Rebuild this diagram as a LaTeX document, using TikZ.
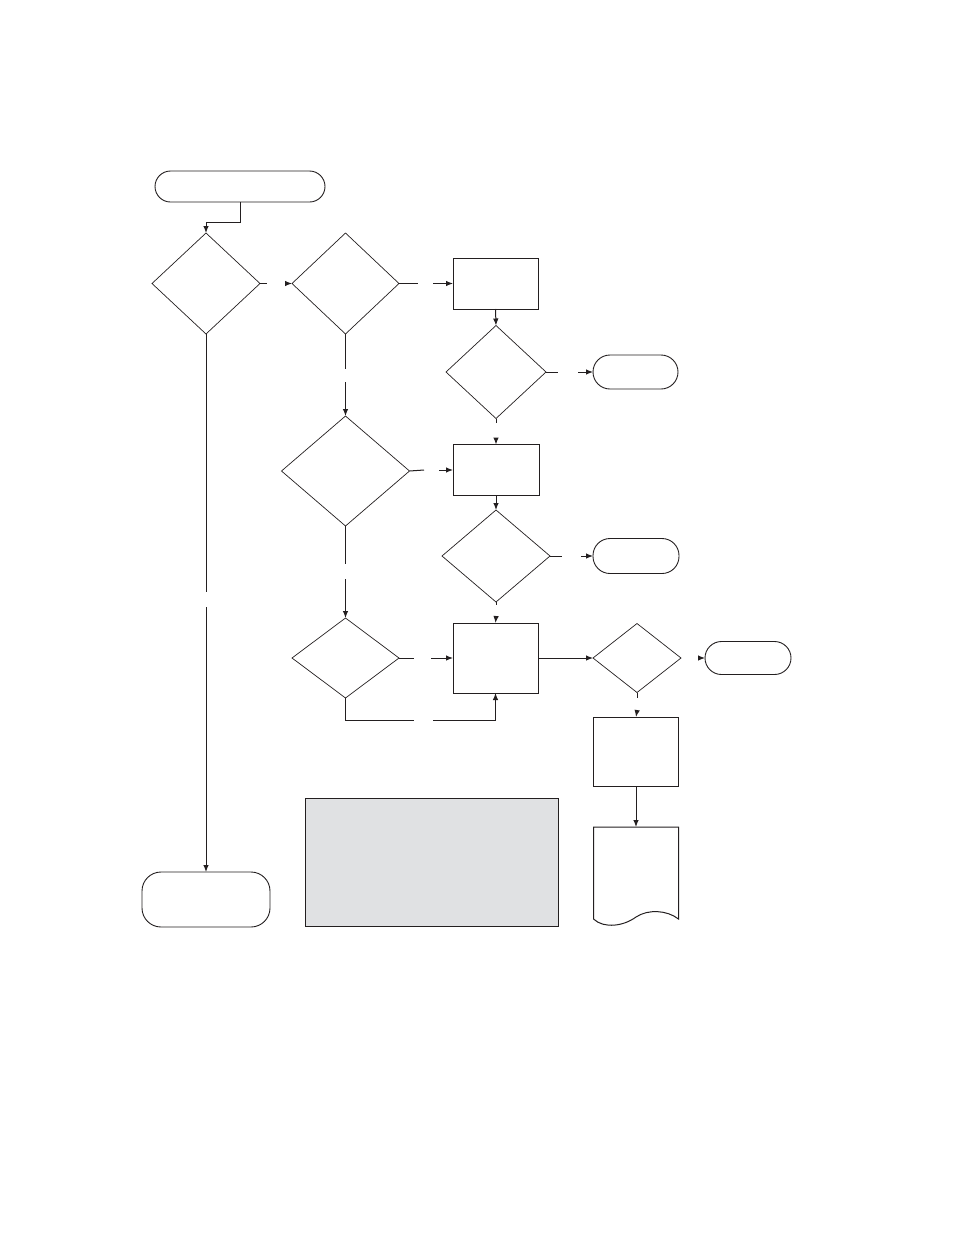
\documentclass[tikz,border=0pt]{standalone}
\usetikzlibrary{shapes.geometric,arrows.meta}
\definecolor{ink}{HTML}{231F20}
\definecolor{panel}{HTML}{E0E1E3}
\tikzset{
  every node/.style={inner sep=0pt, outer sep=0pt},
  dia/.style={diamond, draw=ink, line width=0.7pt},
  boxn/.style={rectangle, draw=ink, line width=1pt},
  term/.style={rectangle, draw=ink, line width=0.9pt},
  ln/.style={draw=ink, line width=1pt},
  arr/.style={ln, -{Latex[length=7pt,width=5.5pt]}},
}
\begin{document}
\begin{tikzpicture}[x=1pt,y=-1pt]
\useasboundingbox (0,0) rectangle (954,1235);

% nodes
\node[term, rounded corners=15.5pt, minimum width=170pt, minimum height=31pt] (S) at (240,186.5) {};
\node[dia, minimum width=108pt, minimum height=101pt] (D1) at (206,283.5) {};
\node[dia, minimum width=107pt, minimum height=101pt] (D2) at (345.5,283.5) {};
\node[boxn, minimum width=85pt, minimum height=51pt] (B1) at (495.5,283.5) {};
\node[dia, minimum width=100pt, minimum height=93pt] (D3) at (496,372) {};
\node[term, rounded corners=17pt, minimum width=85pt, minimum height=34pt] (T1) at (635.5,372) {};
\node[dia, minimum width=128pt, minimum height=110pt] (D4) at (345.5,471) {};
\node[boxn, minimum width=86pt, minimum height=51pt] (B2) at (496,470) {};
\node[dia, minimum width=108pt, minimum height=92pt] (D5) at (496,556) {};
\node[term, rounded corners=17pt, minimum width=86pt, minimum height=35pt] (T2) at (636,556) {};
\node[dia, minimum width=107pt, minimum height=80pt] (D6) at (345.5,658) {};
\node[boxn, minimum width=85pt, minimum height=70pt] (B3) at (495.5,658) {};
\node[dia, minimum width=88pt, minimum height=69pt] (D7) at (637,658) {};
\node[term, rounded corners=16.5pt, minimum width=86pt, minimum height=33pt] (T3) at (748,658) {};
\node[boxn, minimum width=85pt, minimum height=69pt] (B4) at (636,751.5) {};
\node[minimum width=85pt, minimum height=92pt] (DOC) at (636,873) {};
\node[boxn, fill=panel, minimum width=253pt, minimum height=128pt] (G) at (431.5,862) {};
\node[term, rounded corners=19pt, minimum width=128pt, minimum height=55pt] (T4) at (206,899.5) {};

% document outline
\draw[ink, line width=1pt] (DOC.south west) -- (DOC.north west) -- (DOC.north east) -- (DOC.south east)
  .. controls (667,910) and (648,909) .. (636,917)
  .. controls (624,926) and (604,929) .. (DOC.south west);

% gap coordinates
\coordinate (g1a) at (267,283.5);   \coordinate (g1b) at (287,283.5);
\coordinate (g2a) at (418,283.5);   \coordinate (g2b) at (433,283.5);
\coordinate (g3a) at (558,372);     \coordinate (g3b) at (578,372);
\coordinate (g4a) at (496,423);     \coordinate (g4b) at (496,438);
\coordinate (g5a) at (345.5,369);   \coordinate (g5b) at (345.5,382);
\coordinate (g6a) at (424,470);     \coordinate (g6b) at (439,470);
\coordinate (g7a) at (562,556);     \coordinate (g7b) at (581,556);
\coordinate (g8a) at (345.5,564);   \coordinate (g8b) at (345.5,579);
\coordinate (g9a) at (496,605);     \coordinate (g9b) at (496,617);
\coordinate (g10a) at (414,658);    \coordinate (g10b) at (431,658);
\coordinate (g11a) at (414,720);    \coordinate (g11b) at (433,720);
\coordinate (g12b) at (698,658);
\coordinate (g13a) at (637,698);    \coordinate (g13b) at (637,711);
\coordinate (g14a) at (206,592);    \coordinate (g14b) at (206,607);

% connectors
\draw[arr] (S.south) -- ++(0,20) -| (D1.north);
\draw[ln] (D1.east) -- (g1a);  \draw[arr] (g1b) -- (D2.west);
\draw[ln] (D2.east) -- (g2a);  \draw[arr] (g2b) -- (B1.west);
\draw[arr] (B1.south) -- (D3.north);
\draw[ln] (D3.east) -- (g3a);  \draw[arr] (g3b) -- (T1.west);
\draw[ln] (D3.south) -- (g4a); \draw[arr] (g4b) -- (B2.north);
\draw[ln] (D2.south) -- (g5a); \draw[arr] (g5b) -- (D4.north);
\draw[ln] (D4.east) -- (g6a);  \draw[arr] (g6b) -- (B2.west);
\draw[arr] (B2.south) -- (D5.north);
\draw[ln] (D5.east) -- (g7a);  \draw[arr] (g7b) -- (T2.west);
\draw[ln] (D4.south) -- (g8a); \draw[arr] (g8b) -- (D6.north);
\draw[ln] (D5.south) -- (g9a); \draw[arr] (g9b) -- (B3.north);
\draw[ln] (D6.east) -- (g10a); \draw[arr] (g10b) -- (B3.west);
\draw[ln] (D6.south) |- (g11a); \draw[arr] (g11b) -| (B3.south);
\draw[arr] (B3.east) -- (D7.west);
\draw[arr] (g12b) -- (T3.west);
\draw[ln] (D7.south) -- (g13a); \draw[arr] (g13b) -- (B4.north);
\draw[arr] (B4.south) -- (DOC.north);
\draw[ln] (D1.south) -- (g14a); \draw[arr] (g14b) -- (T4.north);
\end{tikzpicture}
\end{document}
